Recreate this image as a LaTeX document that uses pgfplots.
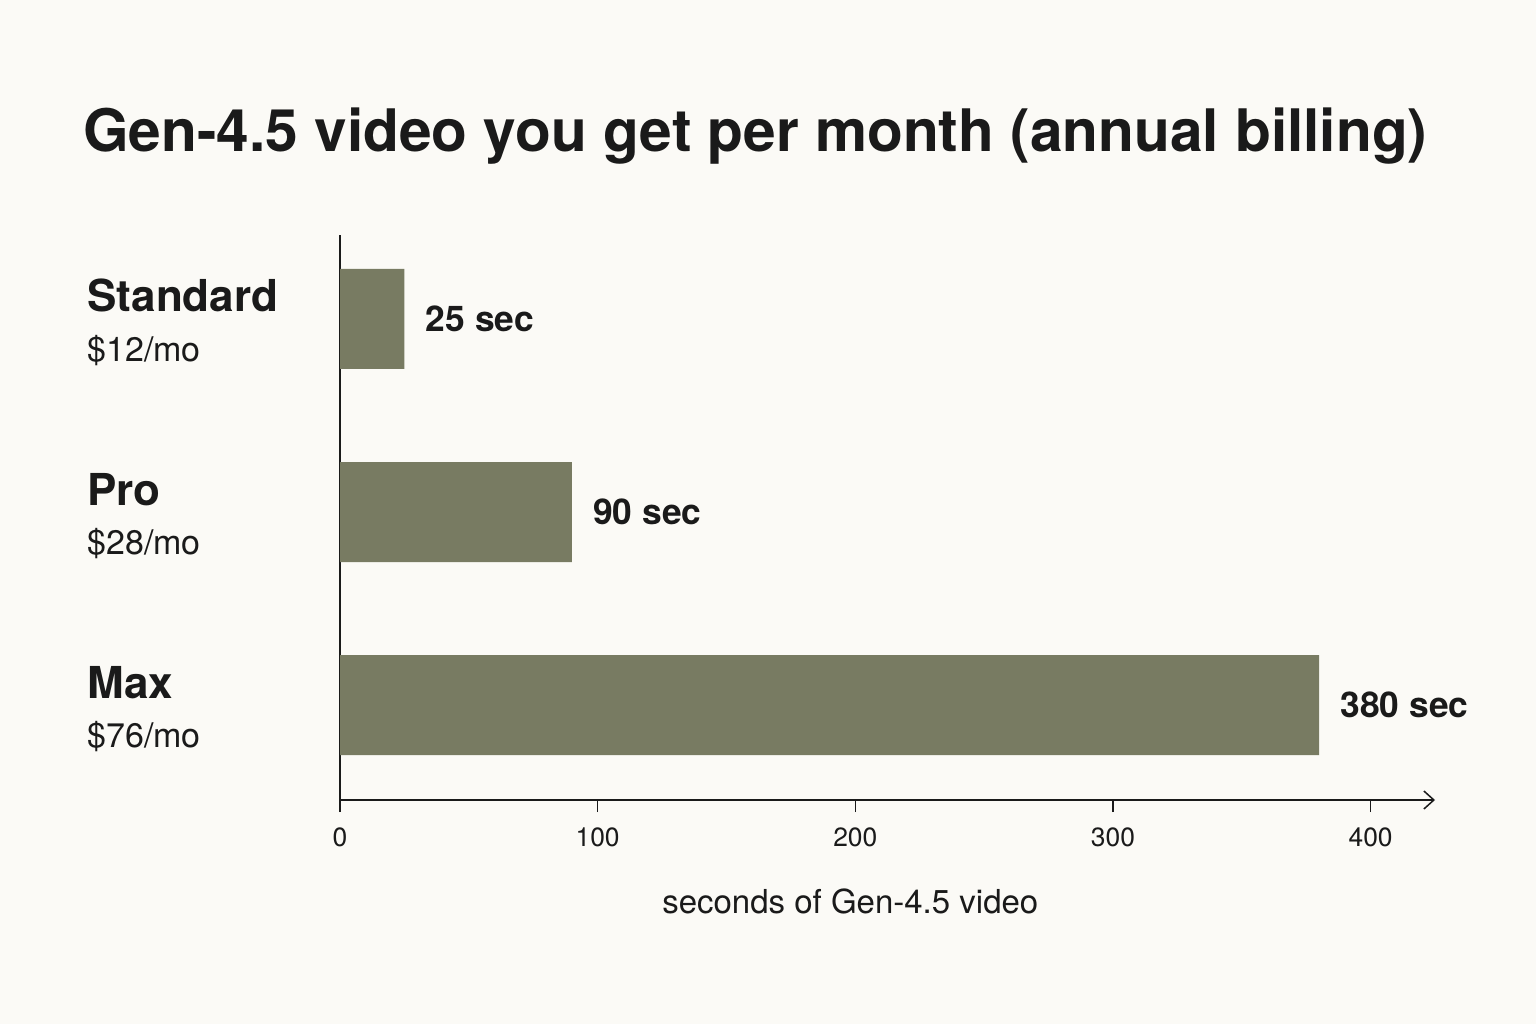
\documentclass[border=0pt]{standalone}
\usepackage{pgfplots}
\pgfplotsset{compat=1.18}
\usepackage{fontspec}
\setmainfont{TeX Gyre Heros}
\usetikzlibrary{arrows.meta}

\definecolor{bgcol}{HTML}{FBFAF6}
\definecolor{barcol}{HTML}{787B62}
\definecolor{ink}{HTML}{1A1A1A}

\begin{document}
\begin{tikzpicture}
\useasboundingbox (0,0) rectangle (768pt,512pt);
\fill[bgcol] (0,0) rectangle (768pt,512pt);

% title
\node[anchor=base west, inner sep=0pt, text=ink,
      font=\fontsize{29.3pt}{34pt}\selectfont\bfseries]
  at (41.5pt,436pt) {Gen-4.5 video you get per month (annual billing)};

\begin{axis}[
    at={(170pt,112pt)}, anchor=south west,
    scale only axis,
    width=547.5pt, height=282.5pt,
    xmin=0, xmax=425,
    ymin=-0.492, ymax=2.435,
    axis x line=bottom, axis y line=left,
    axis line style={ink, line width=0.75pt},
    x axis line style={-{Straight Barb[length=5pt,width=9pt,line width=0.75pt]}},
    y axis line style={-},
    xtick={0,100,200,300,400},
    tick align=outside,
    major tick length=6pt,
    xtick style={ink, line width=0.75pt},
    ytick style={draw=none},
    /pgf/number format/assume math mode=true,
    xticklabel style={font=\fontsize{13.2pt}{15pt}\selectfont, text=ink, inner sep=0pt, yshift=-7.5pt},
    ytick={0,1,2},
    yticklabels={
      {\fontsize{22pt}{24pt}\selectfont\bfseries Max\\[10.5pt]\fontsize{17pt}{20pt}\selectfont\mdseries \$76/mo},
      {\fontsize{22pt}{24pt}\selectfont\bfseries Pro\\[10.5pt]\fontsize{17pt}{20pt}\selectfont\mdseries \$28/mo},
      {\fontsize{22pt}{24pt}\selectfont\bfseries Standard\\[10.5pt]\fontsize{17pt}{20pt}\selectfont\mdseries \$12/mo}
    },
    yticklabel style={text width=120pt, align=left, inner sep=0pt,
      anchor=base west, xshift=-120.5pt, yshift=3.5pt, text=ink},
    xlabel={seconds of Gen-4.5 video},
    xlabel style={font=\fontsize{16.5pt}{18pt}\selectfont, text=ink, inner sep=0pt,
      at={(rel axis cs:0.466,0)}, anchor=north, yshift=-44pt},
    clip=false,
]
\addplot[xbar, fill=barcol, draw=none, bar width=50pt,
    point meta=x,
    nodes near coords={\pgfmathprintnumber{\pgfplotspointmeta}~sec},
    nodes near coords style={anchor=west, inner sep=0pt, xshift=10.5pt, text=ink,
      font=\fontsize{17.7pt}{20pt}\selectfont\bfseries}]
  coordinates {
    (380,0)
    (90,1)
    (25,2)
  };
\end{axis}
\end{tikzpicture}
\end{document}
